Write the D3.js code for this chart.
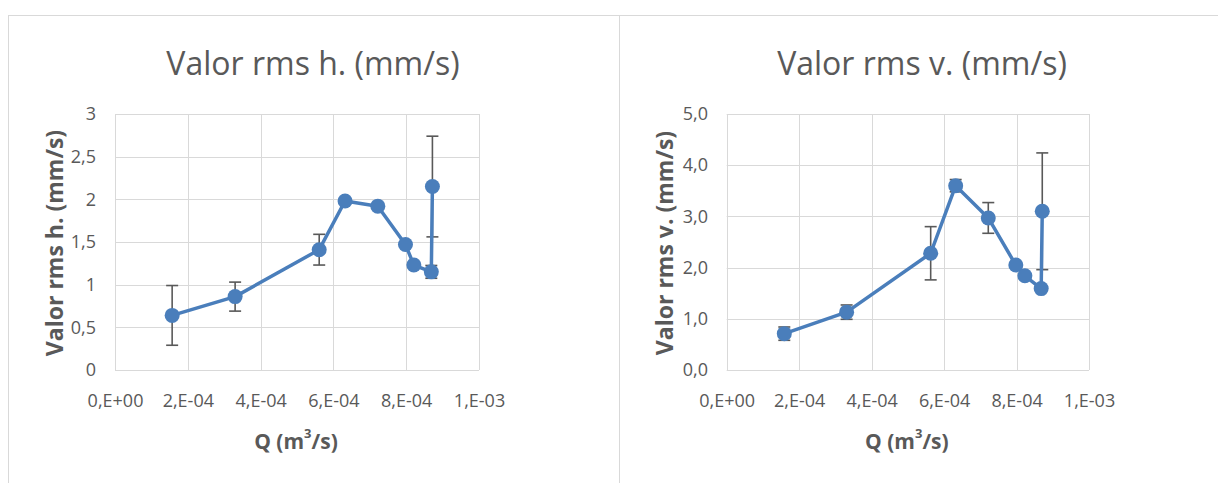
<!DOCTYPE html>
<html>

<head>
  <meta charset="utf-8" />
  <title>Valor rms</title>
  <style>
    body {
      margin: 0;
      background: #fff;
    }

    text {
      font-family: "Open Sans", "Liberation Sans", sans-serif;
      fill: #595959;
    }

    .grid line {
      stroke: #d9d9d9;
      stroke-width: 1px;
    }

    .axis path,
    .axis line {
      display: none;
    }

    .axis text {
      font-size: 18px;
    }

    .frame {
      stroke: #d9d9d9;
      stroke-width: 1px;
    }

    .err {
      stroke: #595959;
      stroke-width: 1.6px;
      fill: none;
    }

    .serie {
      fill: none;
      stroke: #4a7ebb;
      stroke-width: 3.5px;
      stroke-linejoin: round;
    }

    .dot {
      fill: #4a7ebb;
    }
  </style>
  <script src="https://cdnjs.cloudflare.com/ajax/libs/d3/7.8.5/d3.min.js"></script>
</head>

<body>
  <div id="chartArea"></div>
  <script>
    // caudal Q (m3/s) y valores rms
    var qH = [1.57e-4, 3.30e-4, 5.61e-4, 6.32e-4, 7.22e-4, 7.98e-4, 8.21e-4, 8.69e-4, 8.72e-4];
    var rmsH = [0.64, 0.86, 1.41, 1.98, 1.92, 1.47, 1.23, 1.15, 2.15];
    var errH = [0.35, 0.17, 0.18, 0.03, 0.03, 0.03, 0.03, 0.075, 0.59];

    var qV = [1.59e-4, 3.31e-4, 5.63e-4, 6.32e-4, 7.22e-4, 7.98e-4, 8.23e-4, 8.68e-4, 8.71e-4];
    var rmsV = [0.71, 1.13, 2.28, 3.60, 2.97, 2.05, 1.84, 1.59, 3.10];
    var errV = [0.13, 0.14, 0.52, 0.12, 0.30, 0.05, 0.05, 0.05, 1.14];

    var xTicks = [0, 2e-4, 4e-4, 6e-4, 8e-4, 1e-3];
    var xTickLabels = ['0,E+00', '2,E-04', '4,E-04', '6,E-04', '8,E-04', '1,E-03'];
    var yTicksH = [0, 0.5, 1, 1.5, 2, 2.5, 3];
    var yTickLabelsH = ['0', '0,5', '1', '1,5', '2', '2,5', '3'];
    var yTicksV = [0, 1, 2, 3, 4, 5];
    var yTickLabelsV = ['0,0', '1,0', '2,0', '3,0', '4,0', '5,0'];

    var W = 1218, H = 483;

    var svg = d3.select('#chartArea').append('svg')
      .attr('width', W)
      .attr('height', H);

    // marcos de los graficos
    svg.append('line').attr('class', 'frame').attr('x1', 8).attr('x2', W).attr('y1', 15.5).attr('y2', 15.5);
    svg.append('line').attr('class', 'frame').attr('x1', 8.5).attr('x2', 8.5).attr('y1', 15).attr('y2', H);
    svg.append('line').attr('class', 'frame').attr('x1', 619.5).attr('x2', 619.5).attr('y1', 15).attr('y2', H);

    function drawChart(opt) {
      var x = d3.scaleLinear().domain([0, 1e-3]).range([opt.left, opt.right]);
      var y = d3.scaleLinear().domain([0, opt.yMax]).range([opt.bottom, opt.top]);
      var data = opt.q.map((q, i) => ({ q: q, v: opt.v[i], e: opt.e[i] }));

      var g = svg.append('g');

      // rejilla
      g.append('g').attr('class', 'grid')
        .selectAll('line.h').data(opt.yTicks).enter().append('line')
        .attr('x1', opt.left).attr('x2', opt.right)
        .attr('y1', d => Math.round(y(d)) + 0.5).attr('y2', d => Math.round(y(d)) + 0.5);
      g.append('g').attr('class', 'grid')
        .selectAll('line.v').data(xTicks).enter().append('line')
        .attr('x1', d => Math.round(x(d)) + 0.5).attr('x2', d => Math.round(x(d)) + 0.5)
        .attr('y1', opt.top).attr('y2', opt.bottom);

      var xAxis = d3.axisBottom(x)
        .tickValues(xTicks)
        .tickFormat((d, i) => xTickLabels[i])
        .tickSize(0)
        .tickPadding(24);
      g.append('g').attr('class', 'axis')
        .attr('transform', 'translate(0,' + opt.bottom + ')')
        .call(xAxis);

      var yAxis = d3.axisLeft(y)
        .tickValues(opt.yTicks)
        .tickFormat((d, i) => opt.yLabels[i])
        .tickSize(0)
        .tickPadding(opt.left - opt.yLabelX);
      g.append('g').attr('class', 'axis')
        .attr('transform', 'translate(' + opt.left + ',0)')
        .call(yAxis);

      // titulos
      g.append('text')
        .attr('x', opt.titleX).attr('y', 62)
        .attr('text-anchor', 'middle')
        .attr('dominant-baseline', 'central')
        .style('font-size', '32px')
        .text(opt.title);

      g.append('text')
        .attr('transform', 'translate(' + opt.yTitleX + ',' + ((opt.top + opt.bottom) / 2 + 1) + ') rotate(-90)')
        .attr('text-anchor', 'middle')
        .attr('dominant-baseline', 'central')
        .style('font-size', '23px')
        .style('font-weight', 'bold')
        .text(opt.yTitle);

      var xt = g.append('text')
        .attr('x', (opt.left + opt.right) / 2 - 1).attr('y', 441)
        .attr('text-anchor', 'middle')
        .attr('dominant-baseline', 'central')
        .style('font-size', '21px')
        .style('font-weight', 'bold');
      xt.append('tspan').text('Q (m');
      xt.append('tspan').attr('dy', -8).style('font-size', '13px').text('3');
      xt.append('tspan').attr('dy', 8).text('/s)');

      // barras de error
      var eb = g.append('g').attr('class', 'err');
      eb.selectAll('line.bar').data(data).enter().append('line')
        .attr('x1', d => x(d.q)).attr('x2', d => x(d.q))
        .attr('y1', d => y(d.v - d.e)).attr('y2', d => y(d.v + d.e));
      eb.selectAll('line.top').data(data).enter().append('line')
        .attr('x1', d => x(d.q) - 6).attr('x2', d => x(d.q) + 6)
        .attr('y1', d => y(d.v + d.e)).attr('y2', d => y(d.v + d.e));
      eb.selectAll('line.bot').data(data).enter().append('line')
        .attr('x1', d => x(d.q) - 6).attr('x2', d => x(d.q) + 6)
        .attr('y1', d => y(d.v - d.e)).attr('y2', d => y(d.v - d.e));

      var line = d3.line().x(d => x(d.q)).y(d => y(d.v));
      g.append('path').datum(data).attr('class', 'serie').attr('d', line);

      g.selectAll('circle').data(data).enter().append('circle')
        .attr('class', 'dot')
        .attr('cx', d => x(d.q))
        .attr('cy', d => y(d.v))
        .attr('r', 7.5);
    }

    drawChart({
      left: 115, right: 479, top: 114, bottom: 370,
      yMax: 3, yTicks: yTicksH, yLabels: yTickLabelsH, yLabelX: 96,
      q: qH, v: rmsH, e: errH,
      title: 'Valor rms h. (mm/s)', titleX: 313,
      yTitle: 'Valor rms h. (mm/s)', yTitleX: 54
    });

    drawChart({
      left: 726.7, right: 1089, top: 114, bottom: 370,
      yMax: 5, yTicks: yTicksV, yLabels: yTickLabelsV, yLabelX: 708,
      q: qV, v: rmsV, e: errV,
      title: 'Valor rms v. (mm/s)', titleX: 922,
      yTitle: 'Valor rms v. (mm/s)', yTitleX: 664
    });
  </script>
</body>

</html>
